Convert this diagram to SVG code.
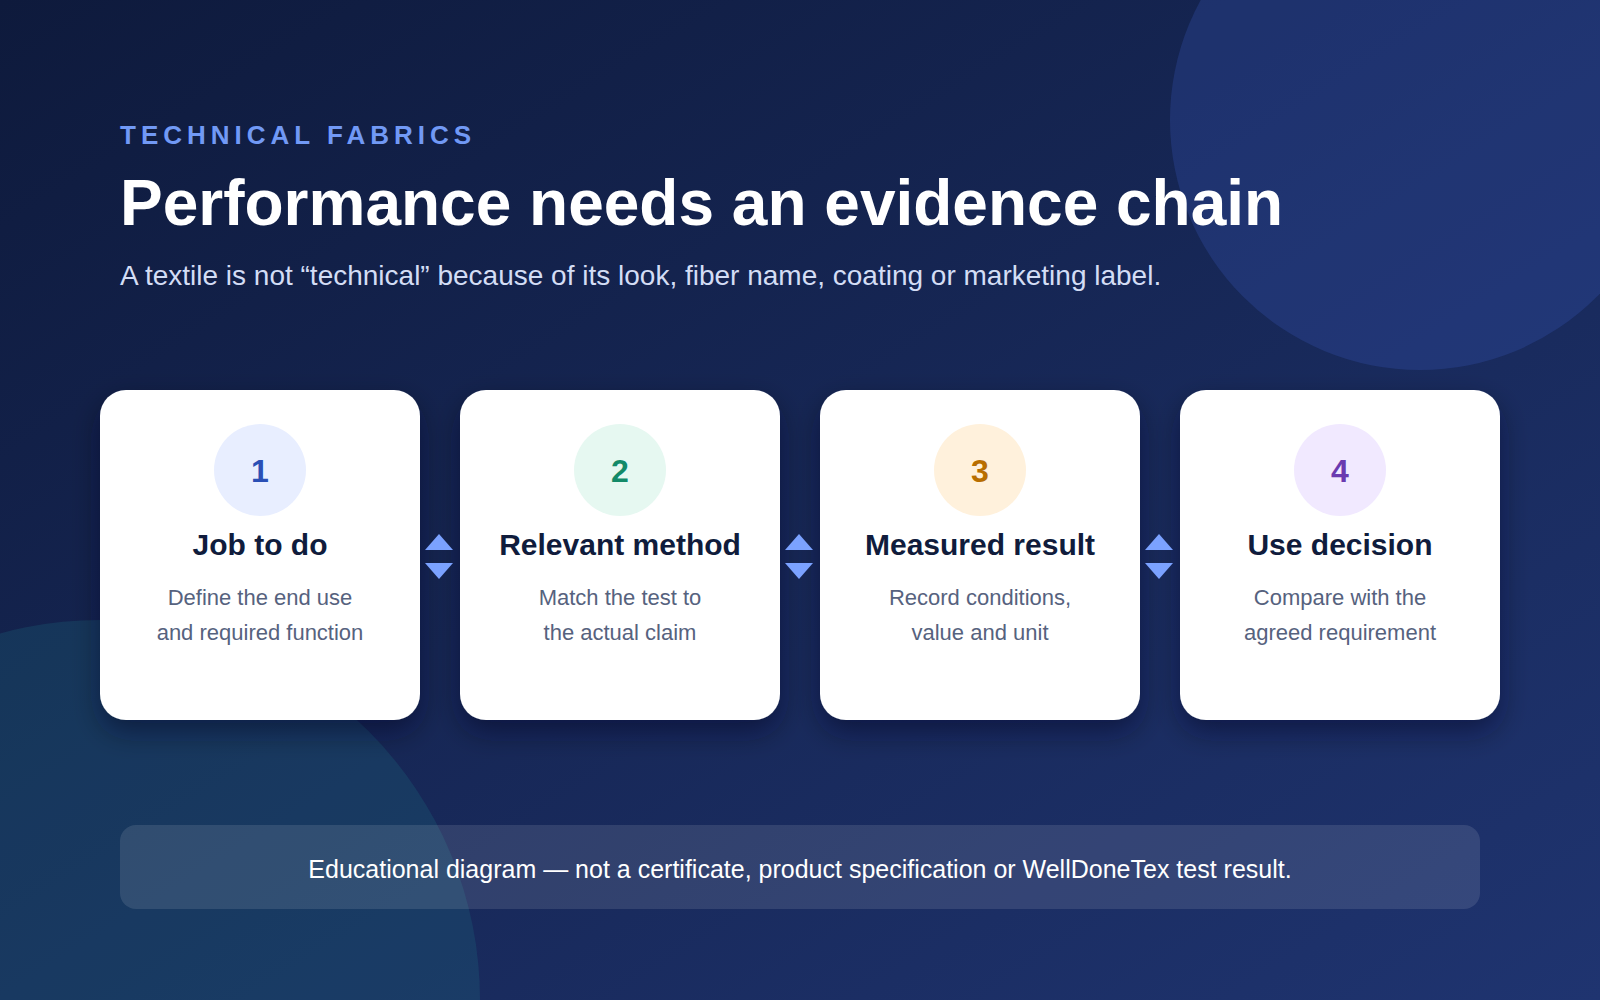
<svg xmlns="http://www.w3.org/2000/svg" width="1600" height="1000" viewBox="0 0 1600 1000">
  <defs>
    <linearGradient id="bg" x1="0" y1="0" x2="1" y2="1">
      <stop offset="0" stop-color="#0e1a3c"/>
      <stop offset="1" stop-color="#1f3470"/>
    </linearGradient>
    <filter id="shadow" x="-20%" y="-20%" width="140%" height="150%">
      <feDropShadow dx="0" dy="12" stdDeviation="14" flood-color="#050c24" flood-opacity="0.45"/>
    </filter>
    <style>
      .card { fill: #ffffff; filter: url(#shadow); }
      .num { font-family: "Liberation Sans", Arial, sans-serif; font-size: 32px; font-weight: bold; text-anchor: middle; }
      .ttl { font-family: "Liberation Sans", Arial, sans-serif; font-size: 30px; font-weight: bold; fill: #101c3c; text-anchor: middle; }
      .desc { font-family: "Liberation Sans", Arial, sans-serif; font-size: 22px; fill: #56627e; text-anchor: middle; }
      .arrow { fill: #7ba2ff; }
    </style>
  </defs>

  <rect width="1600" height="1000" fill="url(#bg)"/>
  <circle cx="1420" cy="120" r="250" fill="#3a5cc4" opacity="0.25"/>
  <circle cx="100" cy="1000" r="380" fill="#1f7a8a" opacity="0.22"/>

  <text x="120" y="144" font-family="Liberation Sans, Arial, sans-serif" font-size="26" font-weight="bold" letter-spacing="5" fill="#7199f5">TECHNICAL FABRICS</text>
  <text x="120" y="225" font-family="Liberation Sans, Arial, sans-serif" font-size="64" font-weight="bold" fill="#ffffff">Performance needs an evidence chain</text>
  <text x="120" y="285" font-family="Liberation Sans, Arial, sans-serif" font-size="28" fill="#d3ddf5">A textile is not “technical” because of its look, fiber name, coating or marketing label.</text>

  <g id="node1">
    <rect class="card" x="100" y="390" width="320" height="330" rx="26"/>
    <circle cx="260" cy="470" r="46" fill="#e8eeff"/>
    <text class="num" x="260" y="482" fill="#2a4fb5">1</text>
    <text class="ttl" x="260" y="555">Job to do</text>
    <text class="desc" x="260" y="605">Define the end use</text>
    <text class="desc" x="260" y="640">and required function</text>
  </g>
  <g id="node2">
    <rect class="card" x="460" y="390" width="320" height="330" rx="26"/>
    <circle cx="620" cy="470" r="46" fill="#e6f8f1"/>
    <text class="num" x="620" y="482" fill="#138a68">2</text>
    <text class="ttl" x="620" y="555">Relevant method</text>
    <text class="desc" x="620" y="605">Match the test to</text>
    <text class="desc" x="620" y="640">the actual claim</text>
  </g>
  <g id="node3">
    <rect class="card" x="820" y="390" width="320" height="330" rx="26"/>
    <circle cx="980" cy="470" r="46" fill="#fff1dc"/>
    <text class="num" x="980" y="482" fill="#b86e00">3</text>
    <text class="ttl" x="980" y="555">Measured result</text>
    <text class="desc" x="980" y="605">Record conditions,</text>
    <text class="desc" x="980" y="640">value and unit</text>
  </g>
  <g id="node4">
    <rect class="card" x="1180" y="390" width="320" height="330" rx="26"/>
    <circle cx="1340" cy="470" r="46" fill="#f1e9ff"/>
    <text class="num" x="1340" y="482" fill="#6a3ab0">4</text>
    <text class="ttl" x="1340" y="555">Use decision</text>
    <text class="desc" x="1340" y="605">Compare with the</text>
    <text class="desc" x="1340" y="640">agreed requirement</text>
  </g>

  <g id="connectors">
    <polygon class="arrow" points="439,534 453,550 425,550"/>
    <polygon class="arrow" points="425,563 453,563 439,579"/>
    <polygon class="arrow" points="799,534 813,550 785,550"/>
    <polygon class="arrow" points="785,563 813,563 799,579"/>
    <polygon class="arrow" points="1159,534 1173,550 1145,550"/>
    <polygon class="arrow" points="1145,563 1173,563 1159,579"/>
  </g>

  <g id="footer">
    <rect x="120" y="825" width="1360" height="84" rx="16" fill="#ffffff" opacity="0.11"/>
    <text x="800" y="878" font-family="Liberation Sans, Arial, sans-serif" font-size="25" fill="#ffffff" text-anchor="middle">Educational diagram — not a certificate, product specification or WellDoneTex test result.</text>
  </g>
</svg>
